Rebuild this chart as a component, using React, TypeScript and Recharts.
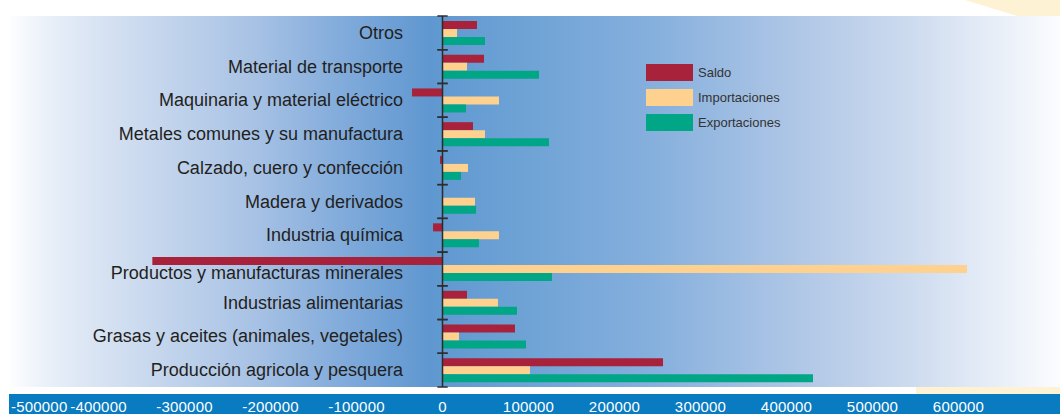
import React from 'react';
import { ComposedChart, Bar, XAxis, YAxis, ReferenceLine, ReferenceArea, Legend } from 'recharts';

// categories top to bottom
const categories = [
  'Otros',
  'Material de transporte',
  'Maquinaria y material eléctrico',
  'Metales comunes y su manufactura',
  'Calzado, cuero y confección',
  'Madera y derivados',
  'Industria química',
  'Productos y manufacturas minerales',
  'Industrias alimentarias',
  'Grasas y aceites (animales, vegetales)',
  'Producción agricola y pesquera',
];

const saldo = [40100, 48300, -35500, 35500, -2900, 0, -11000, -337400, 28500, 84300, 256400];
const importaciones = [16900, 28500, 65700, 49400, 29700, 37800, 65700, 609900, 64500, 19200, 101700];
const exportaciones = [49400, 112200, 27300, 123800, 21500, 39000, 42400, 127300, 86600, 97100, 430800];

const seriesNames = ['Saldo', 'Importaciones', 'Exportaciones'];

const xTicks = [-500000, -400000, -300000, -200000, -100000, 0, 100000, 200000, 300000, 400000, 500000, 600000];

const data = categories.map((name, i) => ({
  name,
  saldo: saldo[i],
  importaciones: importaciones[i],
  exportaciones: exportaciones[i],
}));

const FONT = '"Liberation Sans", Arial, Helvetica, sans-serif';

// the long label sits a little lower so the big negative bar clears it
const labelNudge: Record<string, number> = { 'Productos y manufacturas minerales': 4 };

const CategoryTick = ({ y, payload }: any) => {
  const v = payload ? payload.value : '';
  return (
    <text x={403} y={y} dy={6 + (labelNudge[v] || 0)} textAnchor="end" fontSize={18} fill="#231f20" fontFamily={FONT}>
      {v}
    </text>
  );
};

const ValueTick = ({ x, payload }: any) => {
  // keep the first label inside the blue strip
  const atEdge = x < 40;
  return (
    <text
      x={atEdge ? 11 : x}
      y={412}
      textAnchor={atEdge ? 'start' : 'middle'}
      fontSize={15}
      letterSpacing={0.2}
      fill="#ffffff"
      fontFamily={FONT}
    >
      {payload.value}
    </text>
  );
};

// short marks on the zero line at the top and bottom of each category band
const BandMarks = ({ x, y, width, height }: any) => (
  <g stroke="#2f2f2f" strokeWidth={1.5}>
    <line x1={x} x2={x + width} y1={y} y2={y} />
    <line x1={x} x2={x + width} y1={y + height} y2={y + height} />
  </g>
);

const LegendBox = ({ payload }: any) => {
  const items = [...(payload || [])].sort(
    (a: any, b: any) => seriesNames.indexOf(a.value) - seriesNames.indexOf(b.value)
  );
  return (
    <div style={{ fontFamily: FONT }}>
      {items.map((p: any) => (
        <div key={p.value} style={{ display: 'flex', alignItems: 'center', height: 25 }}>
          <span style={{ width: 47, height: 17, background: p.color, marginRight: 5 }} />
          <span style={{ fontSize: 13, color: '#333' }}>{p.value}</span>
        </div>
      ))}
    </div>
  );
};

export default function App() {
  return (
    <div style={{ position: 'absolute', left: 0, top: 0, width: 1060, height: 414, overflow: 'hidden', background: '#fff' }}>
      {/* backdrop pieces */}
      <div
        style={{
          position: 'absolute',
          left: 965,
          top: 0,
          width: 95,
          height: 16,
          background: '#fdf2d4',
          clipPath: 'polygon(0 0, 100% 0, 100% 100%, 55% 100%)',
        }}
      />
      <div
        style={{
          position: 'absolute',
          left: 10,
          top: 16,
          width: 1050,
          height: 371,
          background:
            'linear-gradient(to right, #fcfdff 0%, #e4ecf7 4.8%, #c8d8ee 13.3%, #a9c3e5 22.9%, #7ea9da 32.4%, #5f97d0 40%, #6aa0d4 46.7%, #85afdd 61%, #b0c7e6 75.2%, #cad9ee 84.8%, #e9eff8 94.3%, #fbfcfe 100%)',
        }}
      />
      <div style={{ position: 'absolute', left: 916, top: 387, width: 144, height: 7, background: '#fdf2d4' }} />
      <div style={{ position: 'absolute', left: 9, top: 394, width: 1051, height: 20, background: '#087bc1' }} />

      <div style={{ position: 'absolute', left: 0, top: 0 }}>
        <ComposedChart
          width={1060}
          height={414}
          data={data}
          layout="vertical"
          margin={{ top: 16, right: 15.5, bottom: 0, left: 11.5 }}
          barGap={0}
        >
          <XAxis
            type="number"
            domain={[-500000, 700000]}
            ticks={xTicks}
            axisLine={false}
            tickLine={false}
            height={27}
            tick={<ValueTick />}
            interval={0}
          />
          <YAxis
            type="category"
            dataKey="name"
            width={1}
            axisLine={false}
            tickLine={false}
            tick={<CategoryTick />}
            interval={0}
          />

          <Legend
            layout="vertical"
            align="center"
            verticalAlign="middle"
            content={<LegendBox />}
            wrapperStyle={{ left: 646, top: 60, width: 160, height: 75 }}
          />

          <Bar dataKey="saldo" name="Saldo" fill="#a8223b" barSize={8} isAnimationActive={false} />
          <Bar dataKey="importaciones" name="Importaciones" fill="#ffd18f" barSize={8} isAnimationActive={false} />
          <Bar dataKey="exportaciones" name="Exportaciones" fill="#00a685" barSize={8} isAnimationActive={false} />

          <ReferenceLine x={0} stroke="#2b2b2b" strokeWidth={1.5} />
          {categories.map((c) => (
            <ReferenceArea
              key={c}
              x1={-6000}
              x2={6000}
              y1={c}
              y2={c}
              shape={<BandMarks />}
            />
          ))}
        </ComposedChart>
      </div>
    </div>
  );
}
